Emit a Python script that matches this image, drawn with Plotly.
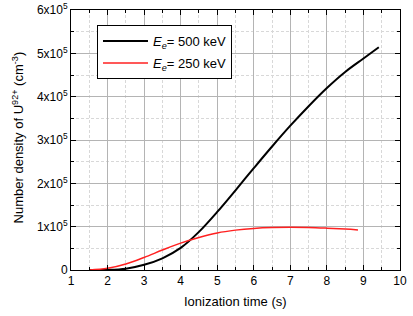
import plotly.graph_objects as go

t_500 = [1.5, 2.0, 2.5, 3.0, 3.5, 4.0, 4.5, 5.0, 5.5, 6.0, 6.5, 7.0, 7.5, 8.0, 8.5, 9.0, 9.42]
n_500 = [0.0, 0.002e5, 0.03e5, 0.12e5, 0.27e5, 0.51e5, 0.88e5, 1.34e5, 1.84e5, 2.35e5, 2.85e5, 3.33e5, 3.78e5, 4.2e5, 4.57e5, 4.88e5, 5.14e5]

t_250 = [1.5, 2.0, 2.5, 3.0, 3.5, 4.0, 4.5, 5.0, 5.5, 6.0, 6.5, 7.0, 7.5, 8.0, 8.5, 8.85]
n_250 = [0.0, 0.04e5, 0.14e5, 0.29e5, 0.46e5, 0.62e5, 0.75e5, 0.855e5, 0.92e5, 0.96e5, 0.98e5, 0.985e5, 0.98e5, 0.965e5, 0.945e5, 0.925e5]

y_ticks = [0, 1e5, 2e5, 3e5, 4e5, 5e5, 6e5]
y_labels = ["0"] + [f"{k}x10<sup>5</sup>" for k in range(1, 7)]
x_ticks = list(range(1, 11))

x_title = "Ionization time (s)"
y_title = "Number density of U<sup>92+</sup> (cm<sup>-3</sup>)"

font = "Liberation Sans, Arial, sans-serif"

fig = go.Figure()
fig.add_trace(go.Scatter(x=t_500, y=n_500, mode="lines", line=dict(color="black", width=2, shape="spline"),
                         name="<i>E<sub>e</sub></i>= 500 keV", legendgroup="a"))
fig.add_trace(go.Scatter(x=t_250, y=n_250, mode="lines", line=dict(color="#ff2020", width=1.5, shape="spline"),
                         name="<i>E<sub>e</sub></i>= 250 keV", legendgroup="b"))

axis_common = dict(showline=True, linecolor="black", linewidth=1, mirror="ticks",
                   ticks="inside", ticklen=5, tickcolor="black", zeroline=False,
                   showgrid=True, gridcolor="#b4b4b4", gridwidth=1, automargin=False,
                   tickfont=dict(family=font, size=12, color="black"))

fig.update_xaxes(range=[1, 10], tickvals=x_ticks,
                 minor=dict(dtick=0.5, tick0=1, ticks="inside", ticklen=3, tickcolor="black",
                            showgrid=True, gridcolor="#d8d8d8", griddash="3px,2px"),
                 **axis_common)
fig.update_yaxes(range=[0, 6e5], tickvals=y_ticks, ticktext=y_labels,
                 minor=dict(dtick=0.5e5, tick0=0, ticks="inside", ticklen=3, tickcolor="black",
                            showgrid=True, gridcolor="#d8d8d8", griddash="3px,2px"),
                 **axis_common)

fig.add_annotation(text=x_title, xref="paper", yref="paper", x=0.5, y=-0.123,
                   xanchor="center", yanchor="middle", showarrow=False,
                   font=dict(family=font, size=13, color="black"))
fig.add_annotation(text=y_title, xref="paper", yref="paper", x=-0.161, y=0.51,
                   xanchor="center", yanchor="middle", textangle=-90, showarrow=False,
                   font=dict(family=font, size=13, color="black"))

fig.update_layout(width=413, height=316, margin=dict(l=71, r=13, t=10, b=46),
                  plot_bgcolor="white", paper_bgcolor="white",
                  font=dict(family=font, size=12, color="black"),
                  legend=dict(x=0.079, y=0.942, xanchor="left", yanchor="top",
                              bordercolor="black", borderwidth=1, bgcolor="white",
                              font=dict(family=font, size=13, color="black"),
                              itemwidth=45,
                              traceorder="grouped", tracegroupgap=2))

fig.write_html("out.html", config={"displayModeBar": False},
               post_script="document.body.style.margin='0';")
